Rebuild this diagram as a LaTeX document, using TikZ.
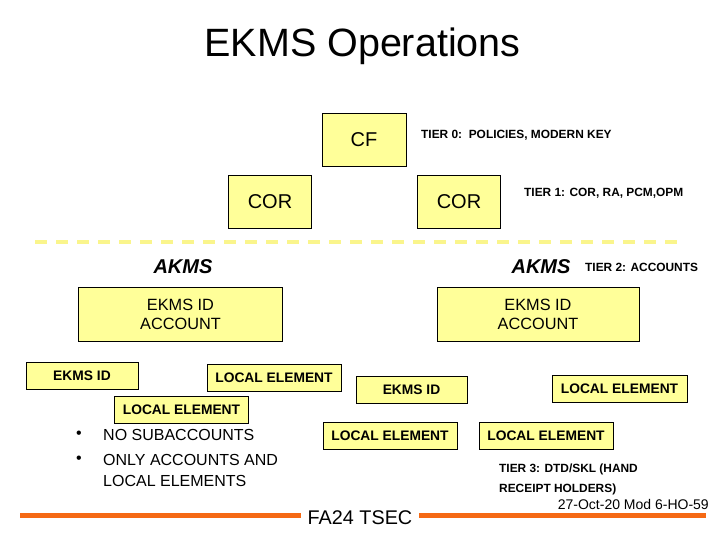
\documentclass[tikz,border=0pt]{standalone}
\usepackage{fontspec}
\setmainfont{Liberation Sans}
\usepackage{tikz}
\usetikzlibrary{positioning}
\definecolor{boxyellow}{RGB}{255,255,153}
\definecolor{dashyellow}{RGB}{250,245,140}
\definecolor{barorange}{RGB}{245,105,20}

\begin{document}
\begin{tikzpicture}[
  x=1pt, y=-1pt,
  every node/.style={inner sep=0pt},
  box/.style={draw, fill=boxyellow, line width=0.6pt},
  bigbox/.style={box, minimum width=83pt, minimum height=53pt, font=\fontsize{20}{22}\selectfont},
  acctbox/.style={box, minimum width=204pt, minimum height=54pt, align=center, font=\fontsize{16.3}{19}\selectfont},
  elembox/.style={box, minimum width=134pt, minimum height=27pt, font=\bfseries\fontsize{13.8}{15}\selectfont},
  tier/.style={anchor=west, font=\bfseries\fontsize{11.9}{20}\selectfont, align=left},
  akms/.style={font=\bfseries\itshape\fontsize{20}{22}\selectfont},
  bullet/.style={anchor=west, font=\fontsize{16}{21}\selectfont, align=left}
]
\useasboundingbox (0,0) rectangle (720,540);

% title
\node (title) at (362.5,46) {\fontsize{39.5}{44}\selectfont EKMS Operations};

% tier 0 and tier 1
\node[bigbox, minimum width=84pt] (cf) at (364,140) {CF};
\node[tier] (tier0) at (421,135) {TIER 0:\ \ POLICIES, MODERN KEY};
\node[bigbox] (corleft) at (270,202) {COR};
\node[bigbox] (corright) at (459,202) {COR};
\node[tier] (tier1) at (524,193) {TIER 1: COR, RA, PCM,OPM};

% boundary
\draw[dashyellow, line width=4pt, dash pattern=on 12pt off 9pt] (35,242) -- (682,242);

% tier 2
\node[akms] (akmsleft) at (183,267) {AKMS};
\node[akms] (akmsright) at (541,267) {AKMS};
\node[tier] (tier2) at (585,267) {TIER 2: ACCOUNTS};
\node[acctbox] (acctleft) at (180.5,314) {EKMS ID\\ACCOUNT};
\node[acctbox, minimum width=202pt] (acctright) at (538,314) {EKMS ID\\ACCOUNT};

% tier 3
\node[elembox, minimum width=112pt] (idleft) at (82,375.5) {EKMS ID};
\node[elembox] (elemone) at (274,377.5) {LOCAL ELEMENT};
\node[elembox, minimum width=111pt] (idmid) at (411.5,390) {EKMS ID};
\node[elembox, minimum width=135pt] (elemright) at (619.5,389) {LOCAL ELEMENT};
\node[elembox] (elemtwo) at (181.5,410) {LOCAL ELEMENT};
\node[elembox] (elemmid) at (390,436) {LOCAL ELEMENT};
\node[elembox] (elemlow) at (546,436) {LOCAL ELEMENT};

\node[bullet] (dotone) at (76,435) {\textbullet};
\node[bullet] (noaccts) at (103,435) {NO SUBACCOUNTS};
\node[bullet] (dottwo) at (76,460) {\textbullet};
\node[bullet] (onlyaccts) at (103,470.5) {ONLY ACCOUNTS AND\\LOCAL ELEMENTS};
\node[tier, font=\bfseries\fontsize{11.9}{20}\selectfont] (tier3) at (499,479) {TIER 3: DTD/SKL (HAND\\RECEIPT HOLDERS)};

% footer
\node[anchor=east, font=\fontsize{14}{16}\selectfont] (date) at (709,504) {27-Oct-20 Mod 6-HO-59};
\node[font=\fontsize{19.8}{22}\selectfont, inner xsep=7pt] (tsec) at (360,518) {FA24 TSEC};
\draw[barorange, line width=5pt] (20,515) -- (tsec.west |- 0,515);
\draw[barorange, line width=5pt] (tsec.east |- 0,515) -- (706,515);
\end{tikzpicture}
\end{document}
